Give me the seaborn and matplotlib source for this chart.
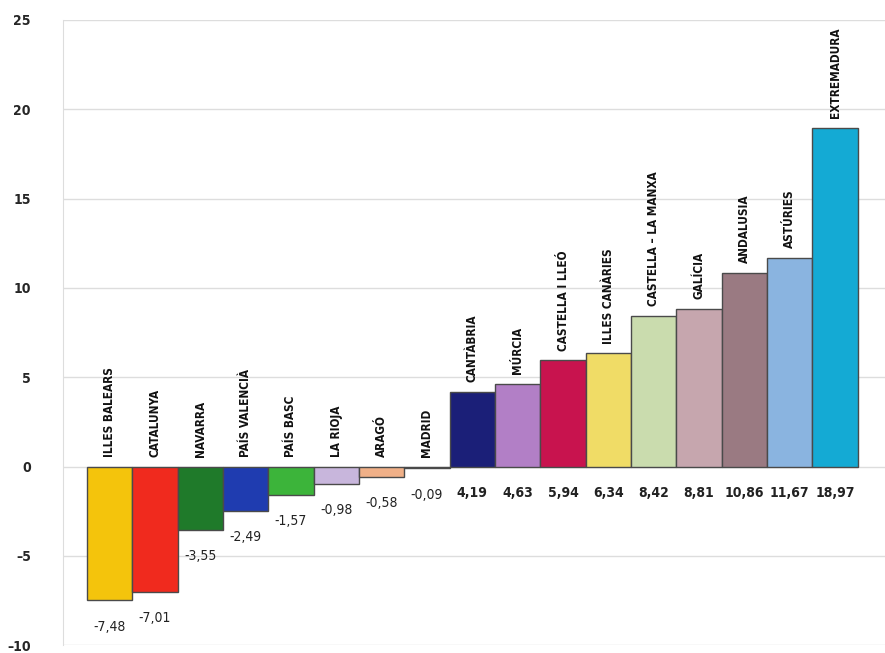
import matplotlib
matplotlib.use("Agg")
import matplotlib.pyplot as plt
import seaborn as sns

# regions and their values
regions = ["ILLES BALEARS", "CATALUNYA", "NAVARRA", "PAÍS VALENCIÀ", "PAÍS BASC",
           "LA RIOJA", "ARAGÓ", "MADRID", "CANTÀBRIA", "MÚRCIA", "CASTELLA I LLEÓ",
           "ILLES CANÀRIES", "CASTELLA – LA MANXA", "GALÍCIA", "ANDALUSIA",
           "ASTÚRIES", "EXTREMADURA"]
values = [-7.48, -7.01, -3.55, -2.49, -1.57, -0.98, -0.58, -0.09, 4.19, 4.63,
          5.94, 6.34, 8.42, 8.81, 10.86, 11.67, 18.97]
colors = ["#f4c40c", "#f02a1e", "#1f7a2a", "#1f3cb0", "#3cb43a", "#c8b6dc",
          "#f0b088", "#1e1e1e", "#1b1f78", "#b27fc6", "#c8134e", "#f0dc66",
          "#cadcae", "#c6a6ae", "#9a7a82", "#8ab4e0", "#14aad4"]
yticks = [-10, -5, 0, 5, 10, 15, 20, 25]

sns.set_style("white")
plt.rcParams["font.family"] = ["DejaVu Sans"]
plt.rcParams["font.stretch"] = "condensed"

fig = plt.figure(figsize=(8.85, 6.53), dpi=100)
ax = fig.add_axes([0.071, 0.012, 0.929, 0.9574])

sns.barplot(x=regions, y=values, hue=regions, palette=colors, legend=False,
            saturation=1, width=1.0, edgecolor="#4a4a4a", linewidth=1.0,
            ax=ax, zorder=3)

ax.set_xlim(-1.03, 17.1)
ax.set_ylim(-10, 25)
ax.set_yticks(yticks)
ax.set_yticklabels([str(t).replace("-", "–") for t in yticks],
                   fontsize=10, fontweight="bold", fontstretch="condensed")
ax.tick_params(axis="y", length=13, color="#dddddd", width=1, pad=10)
ax.set_xticks([])
ax.set_xlabel("")
ax.set_ylabel("")
ax.grid(axis="y", color="#dddddd", linewidth=1, zorder=0)
for s in ["top", "right", "bottom"]:
    ax.spines[s].set_visible(False)
ax.spines["left"].set_color("#dddddd")

for i, (name, v) in enumerate(zip(regions, values)):
    ax.annotate(name, (i, max(v, 0)), xytext=(0, 7), textcoords="offset points",
                rotation=90, ha="center", va="bottom", fontsize=8.5,
                fontweight="bold", fontstretch="condensed", color="#111111")
    lab = f"{v:.2f}".replace(".", ",")
    ax.annotate(lab, (i, min(v, 0)), xytext=(0, -19), textcoords="offset points",
                ha="center", va="center", fontsize=10, fontstretch="condensed",
                fontweight="bold" if v > 0 else "normal", color="#222222")

fig.savefig("out.png", dpi=100)
